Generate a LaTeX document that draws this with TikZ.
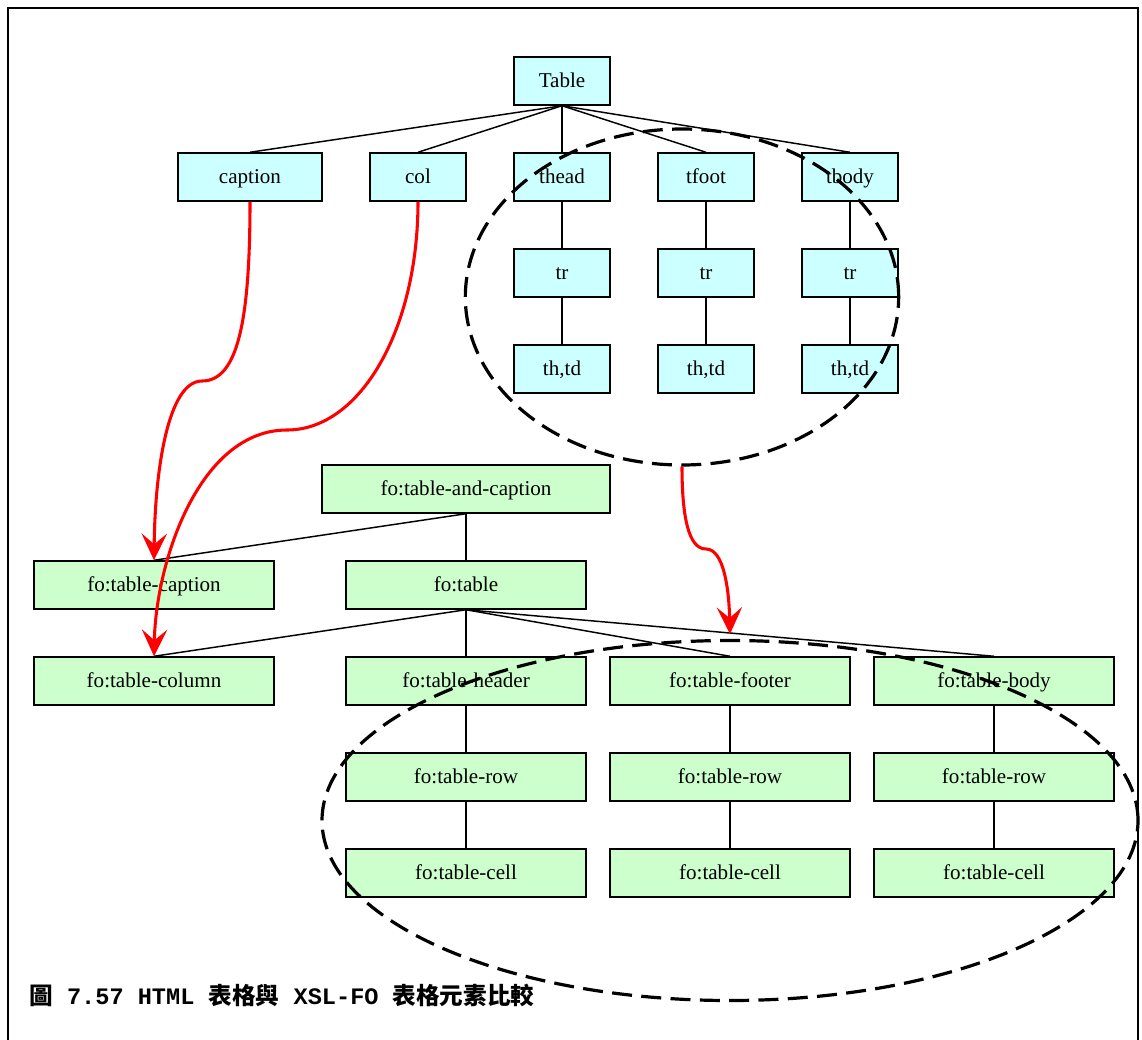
\documentclass[tikz,border=0pt]{standalone}
\usepackage{fontspec}
\setmainfont{Liberation Serif}
\newfontfamily\cjk{Noto Sans CJK TC}
\newfontfamily\monob{Liberation Mono}
\usetikzlibrary{arrows.meta,shapes.geometric}
\definecolor{htmlfill}{HTML}{CCFFFF}
\definecolor{fofill}{HTML}{CCFFCC}
\definecolor{arrowred}{HTML}{FF0000}
\tikzset{
  box/.style={draw=black, line width=1.1pt, inner sep=0pt, minimum height=36pt,
    text height=14pt, text depth=4pt, font=\fontsize{15.8}{18}\selectfont},
  hbox/.style={box, fill=htmlfill, minimum width=72pt},
  hwide/.style={box, fill=htmlfill, minimum width=108pt},
  fbox/.style={box, fill=fofill, minimum width=180pt},
  fwide/.style={box, fill=fofill, minimum width=216pt},
  tree/.style={draw=black, line width=1.1pt},
  group/.style={draw=black, line width=2.4pt, dash pattern=on 15pt off 7pt, ellipse, inner sep=0pt},
  map/.style={draw=arrowred, line width=2.3pt, -{Stealth[length=20pt, width=19pt, inset=8pt]}},
}
\begin{document}
\begin{tikzpicture}[x=0.75pt,y=-0.75pt]
\useasboundingbox (0,0) rectangle (1142,1039);
\draw[line width=2pt] (8,1045) -- (8,8) -- (1138,8) -- (1138,1045);

% HTML tree
\node[hbox] (table) at (562,81) {Table};
\node[hwide] (caption) at (250,177) {caption};
\node[hbox] (col) at (418,177) {col};
\node[hbox] (thead) at (562,177) {thead};
\node[hbox] (tfoot) at (706,177) {tfoot};
\node[hbox] (tbody) at (850,177) {tbody};
\node[hbox] (tr1) at (562,273) {tr};
\node[hbox] (tr2) at (706,273) {tr};
\node[hbox] (tr3) at (850,273) {tr};
\node[hbox] (td1) at (562,369) {th,td};
\node[hbox] (td2) at (706,369) {th,td};
\node[hbox] (td3) at (850,369) {th,td};

% FO tree
\node[fwide] (ftac) at (466,489) {fo:table-and-caption};
\node[fbox] (ftcap) at (154,585) {fo:table-caption};
\node[fbox] (ft) at (466,585) {fo:table};
\node[fbox] (ftcol) at (154,681) {fo:table-column};
\node[fbox] (fth) at (466,681) {fo:table-header};
\node[fbox] (ftf) at (730,681) {fo:table-footer};
\node[fbox] (ftb) at (994,681) {fo:table-body};
\node[fbox] (fr1) at (466,777) {fo:table-row};
\node[fbox] (fr2) at (730,777) {fo:table-row};
\node[fbox] (fr3) at (994,777) {fo:table-row};
\node[fbox] (fc1) at (466,873) {fo:table-cell};
\node[fbox] (fc2) at (730,873) {fo:table-cell};
\node[fbox] (fc3) at (994,873) {fo:table-cell};

% tree edges
\foreach \c in {caption,col,thead,tfoot,tbody}{\draw[tree] (table.south) -- (\c.north);}
\draw[tree] (thead.south) -- (tr1.north); \draw[tree] (tr1.south) -- (td1.north);
\draw[tree] (tfoot.south) -- (tr2.north); \draw[tree] (tr2.south) -- (td2.north);
\draw[tree] (tbody.south) -- (tr3.north); \draw[tree] (tr3.south) -- (td3.north);
\draw[tree] (ftac.south) -- (ftcap.north);
\draw[tree] (ftac.south) -- (ft.north);
\foreach \c in {ftcol,fth,ftf,ftb}{\draw[tree] (ft.south) -- (\c.north);}
\draw[tree] (fth.south) -- (fr1.north); \draw[tree] (fr1.south) -- (fc1.north);
\draw[tree] (ftf.south) -- (fr2.north); \draw[tree] (fr2.south) -- (fc2.north);
\draw[tree] (ftb.south) -- (fr3.north); \draw[tree] (fr3.south) -- (fc3.north);

% dashed groups
\node[group, minimum width=325pt, minimum height=252pt] (ell1) at (682,297) {};
\node[group, minimum width=612pt, minimum height=270pt] (ell2) at (730,820.5) {};

% mapping arrows
\coordinate (k1) at (202,381);
\coordinate (k2) at (287,430);
\coordinate (k3) at (706,549);
\coordinate (a3end) at (730,634);
\draw[map] (caption.south) .. controls (250,320) and (238,381) .. (k1)
  .. controls (168,381) and (155,470) .. (ftcap.north);
\draw[map] (col.south) .. controls (418,330) and (360,430) .. (k2)
  .. controls (200,430) and (156,560) .. (ftcol.north);
\draw[map] (ell1.south) .. controls (682,515) and (688,549) .. (k3)
  .. controls (724,549) and (729,590) .. (a3end);

% caption
\node[anchor=west, inner sep=0pt, font=\fontsize{17.7}{21}\selectfont\bfseries] (figcap) at (29,995)
  {{\cjk 圖}\monob{} 7.57 HTML {\cjk 表格與} XSL-FO {\cjk 表格元素比較}};
\end{tikzpicture}
\end{document}
